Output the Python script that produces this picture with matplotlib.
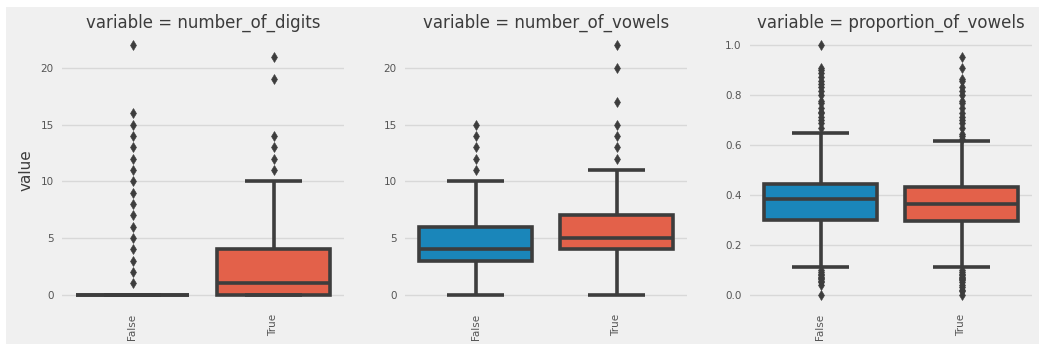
import matplotlib
matplotlib.use("Agg")
import matplotlib.pyplot as plt
from matplotlib.patches import Rectangle

# Categories and facet variables
categories = ["False", "True"]
variables = ["number_of_digits", "number_of_vowels", "proportion_of_vowels"]

# Box statistics per variable: one entry per category (False, True)
digits_q1 = [0, 0]
digits_med = [0, 1]
digits_q3 = [0, 4]
digits_whislo = [0, 0]
digits_whishi = [0, 10]
digits_fliers = [
    [1, 2, 3, 4, 5, 6, 7, 8, 9, 10, 11, 12, 13, 14, 15, 16, 22],
    [11, 12, 13, 14, 19, 21],
]

vowels_q1 = [3, 4]
vowels_med = [4, 5]
vowels_q3 = [6, 7]
vowels_whislo = [0, 0]
vowels_whishi = [10, 11]
vowels_fliers = [
    [11, 12, 13, 14, 15],
    [12, 13, 14, 15, 17, 20, 22],
]

prop_q1 = [0.30, 0.295]
prop_med = [0.385, 0.365]
prop_q3 = [0.445, 0.43]
prop_whislo = [0.11, 0.11]
prop_whishi = [0.65, 0.615]
prop_fliers = [
    [0.0, 0.04, 0.05, 0.056, 0.0625, 0.0667, 0.0714, 0.0769, 0.0833, 0.0909, 0.1,
     0.667, 0.6875, 0.7, 0.714, 0.727, 0.733, 0.75, 0.769, 0.778, 0.8, 0.818,
     0.833, 0.846, 0.857, 0.875, 0.889, 0.9, 0.909, 1.0],
    [0.0, 0.0125, 0.02, 0.03, 0.04, 0.05, 0.0588, 0.0625, 0.0667, 0.0714, 0.0769,
     0.0833, 0.0909, 0.1, 0.625, 0.636, 0.643, 0.667, 0.688, 0.7, 0.714, 0.727,
     0.75, 0.769, 0.778, 0.8, 0.818, 0.833, 0.857, 0.867, 0.909, 0.952],
]

panel_stats = [
    (digits_q1, digits_med, digits_q3, digits_whislo, digits_whishi, digits_fliers),
    (vowels_q1, vowels_med, vowels_q3, vowels_whislo, vowels_whishi, vowels_fliers),
    (prop_q1, prop_med, prop_q3, prop_whislo, prop_whishi, prop_fliers),
]
yticks = [[0, 5, 10, 15, 20], [0, 5, 10, 15, 20], [0.0, 0.2, 0.4, 0.6, 0.8, 1.0]]
ytick_fmt = ["{:g}", "{:g}", "{:.1f}"]

BG = "#f0f0f0"
GRID = "#d8d8d8"
LINE = "#3d3d3d"
box_colors = ["#1a86ba", "#e3614a"]
TEXT = "#3c3c3c"
TICK = "#555555"

W, H = 1039, 347
fig = plt.figure(figsize=(W / 100, H / 100), dpi=100, facecolor="white")
fig.patches.append(Rectangle((6 / W, 3 / H), 1 - 6 / W, 1 - 10 / H,
                             transform=fig.transFigure, facecolor=BG,
                             edgecolor="none", zorder=-10))

ax_left = [62, 405, 750]
ax_w = 282
ax_top, ax_bot = 33, 307

for i, (var, stats) in enumerate(zip(variables, panel_stats)):
    ax = fig.add_axes([ax_left[i] / W, 1 - ax_bot / H, ax_w / W, (ax_bot - ax_top) / H])
    ax.set_facecolor(BG)
    q1, med, q3, lo, hi, fl = stats
    bstats = []
    for j in range(len(categories)):
        bstats.append(dict(q1=q1[j], med=med[j], q3=q3[j], whislo=lo[j],
                           whishi=hi[j], fliers=fl[j], label=categories[j]))
    lw = 2.6
    res = ax.bxp(bstats, positions=[0, 1], widths=0.8, capwidths=0.4,
                 patch_artist=True, showfliers=True,
                 boxprops=dict(edgecolor=LINE, linewidth=lw),
                 whiskerprops=dict(color=LINE, linewidth=lw, solid_capstyle="butt"),
                 capprops=dict(color=LINE, linewidth=lw, solid_capstyle="butt"),
                 medianprops=dict(color=LINE, linewidth=lw, solid_capstyle="butt"),
                 flierprops=dict(marker="d", markersize=5, markeredgewidth=0.4,
                                 markerfacecolor=LINE, markeredgecolor=LINE,
                                 linestyle="none"))
    for patch, c in zip(res["boxes"], box_colors):
        patch.set_facecolor(c)

    ax.set_xlim(-0.5, 1.5)
    allvals = [v for j in range(2) for v in (lo[j], hi[j], *fl[j])]
    vmin, vmax = min(allvals), max(allvals)
    pad = (vmax - vmin) * 0.05
    ax.set_ylim(vmin - pad, vmax + pad)

    ax.set_yticks(yticks[i])
    ax.set_yticklabels([ytick_fmt[i].format(t) for t in yticks[i]])
    ax.set_xticks([0, 1])
    ax.set_xticklabels(categories, rotation=90)
    ax.tick_params(axis="both", length=0, labelsize=7.5, labelcolor=TICK)
    ax.tick_params(axis="y", pad=6)
    ax.tick_params(axis="x", pad=5)
    ax.yaxis.grid(True, color=GRID, linewidth=1)
    ax.xaxis.grid(False)
    ax.set_axisbelow(True)
    for s in ax.spines.values():
        s.set_visible(False)
    ax.set_title(f"variable = {var}", fontsize=12, color=TEXT, pad=4)
    if i == 0:
        ax.set_ylabel("value", fontsize=11, color=TEXT, labelpad=5)

fig.savefig("out.png", dpi=100, facecolor="white")
